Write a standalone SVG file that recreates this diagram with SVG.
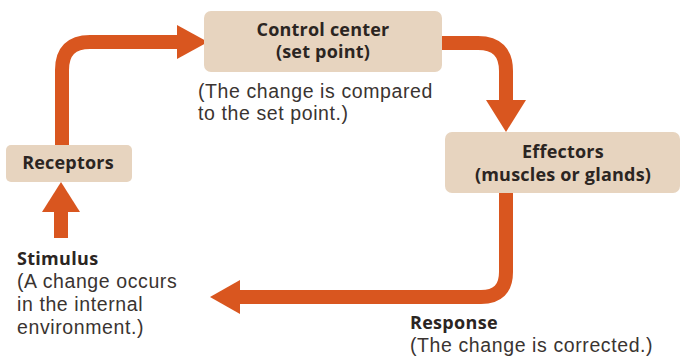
<svg xmlns="http://www.w3.org/2000/svg" width="687" height="358" viewBox="0 0 687 358">
<style>
.box{fill:#e7d4bf}
.lbl{font-family:"Open Sans","Liberation Sans",sans-serif;font-size:18px;font-weight:bold;fill:#2b2522;text-anchor:middle;letter-spacing:0.2px}
.note{font-family:"Liberation Sans",Arial,sans-serif;font-size:19.5px;fill:#3a3431;letter-spacing:0.6px}
.noteb{font-family:"Open Sans","Liberation Sans",sans-serif;font-size:18px;font-weight:bold;fill:#2b2522;letter-spacing:0.3px}
.wire{fill:none;stroke:#d9561f;stroke-width:14}
.head{fill:#d9561f}
</style>
<rect width="687" height="358" fill="#ffffff"/>
<g id="connectors">
<path class="wire" d="M62,146 V70 Q62,42 90,42 H180"/>
<polygon class="head" points="208,42 177,25 177,59"/>
<path class="wire" d="M440,43 H478 Q506,43 506,71 V102"/>
<polygon class="head" points="486,100 526,100 506,132"/>
<path class="wire" d="M506,192 V272 Q506,297 481,297 H238"/>
<polygon class="head" points="210,297 240,280 240,314"/>
<path class="wire" d="M61,238 V208"/>
<polygon class="head" points="61,182 42,212 80,212"/>
</g>
<g id="control-center">
<rect class="box" x="204" y="11" width="238" height="61" rx="7"/>
<text class="lbl" x="323" y="36">Control center</text>
<text class="lbl" x="323" y="58">(set point)</text>
</g>
<g id="control-note">
<text class="note" x="198" y="98">(The change is compared</text>
<text class="note" x="198" y="120">to the set point.)</text>
</g>
<g id="effectors">
<rect class="box" x="445" y="132" width="235" height="61" rx="7"/>
<text class="lbl" x="563" y="158">Effectors</text>
<text class="lbl" x="563" y="181">(muscles or glands)</text>
</g>
<g id="receptors">
<rect class="box" x="6" y="145" width="126" height="37" rx="5"/>
<text class="lbl" x="68" y="169">Receptors</text>
</g>
<g id="stimulus">
<text class="noteb" x="17" y="265">Stimulus</text>
<text class="note" x="17" y="288">(A change occurs</text>
<text class="note" x="17" y="311">in the internal</text>
<text class="note" x="17" y="334">environment.)</text>
</g>
<g id="response">
<text class="noteb" x="410" y="329">Response</text>
<text class="note" x="410" y="352">(The change is corrected.)</text>
</g>
</svg>
